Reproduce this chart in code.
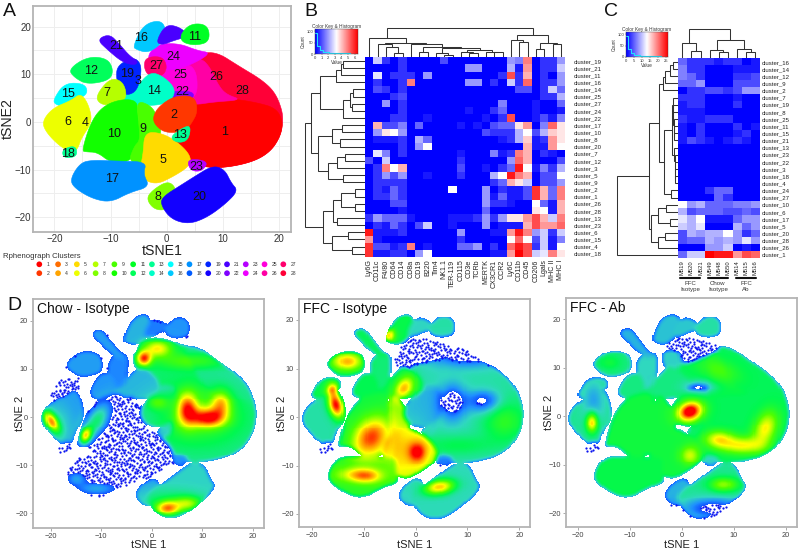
import numpy as np, matplotlib
matplotlib.use('Agg')
import matplotlib.pyplot as plt, seaborn as sns
from matplotlib.path import Path
from matplotlib.colors import LinearSegmentedColormap as LSC

sns.set_theme(style='white')
plt.rcParams['font.family'] = ['Liberation Sans', 'DejaVu Sans']
W, H = 800, 551

# ---------- cluster outlines (tSNE units) ----------
draw_order = [28,1,26,25,24,27,22,14,19,21,16,29,11,12,15,7,6,10,9,5,17,8,20,2,13,23,18]
outlines = {
 28: [(3,5),(5,13.2),(8.5,14.5),(13,11),(16.5,8.5),(18.8,6),(20,2.5),(20.2,0),(19.7,-3),(18,-6),(15,-8),(10,-9.2),(6,-8.9),(3.5,-7),(1.5,-4.5),(3,-3),(4.5,-1.5),(5,2)],
 1: [(4.9,3.5),(8,4.6),(12,4.3),(16,3.6),(19,2.6),(20.2,0),(19.7,-3),(18,-6),(15,-8),(10,-9.2),(6,-8.9),(3.5,-7),(1.5,-4.5),(3,-3),(4.5,-1.5),(4.6,1.5)],
 26: [(3,12),(6,13),(7.5,11),(8.5,8),(10,6),(13,4.8),(8,4.6),(5,4),(3,5),(1,7),(2,10)],
 25: [(-1,9.5),(1,11.3),(3.5,12),(5,10),(5,5),(1,5),(-1,7)],
 24: [(-3.2,13.3),(-1.5,16),(2,16),(5,14.8),(7.5,14.4),(3.5,12),(0,11),(-1,12.5)],
 27: [(-3.4,13.2),(-1,13.3),(-0.4,11.5),(-1,10),(-3,10),(-3.6,11.5)],
 22: [(1,6.2),(4.5,6.2),(4,4.6),(1.8,4.2),(0.6,5)],
 14: [(-8,5),(-5,7),(-3,10),(-1,9.2),(1,7),(0.6,5),(-1,4),(-4,3.8),(-6,4)],
 19: [(-8.5,11.5),(-6,13),(-5,12),(-5,10),(-5.5,7),(-7,6),(-8,7),(-8.5,9)],
 21: [(-12,17),(-10,18),(-8.5,16),(-7,14),(-5.5,13),(-6,12.2),(-8,13),(-10,15)],
 16: [(-5.6,16),(-4,20),(-1,21),(-0.5,18),(-2,16),(-3.5,15),(-5,15.5)],
 29: [(-1.5,17),(0,20),(2,19.5),(3.5,18),(1,17.5),(-0.5,16.5)],
 11: [(3,18.5),(4.5,20.2),(7,20),(7.2,17),(5,16.5),(3,17)],
 12: [(-17,11),(-14,13.2),(-11,13),(-10,11),(-10.5,9),(-14,8.3),(-16,9.5)],
 15: [(-19.6,5),(-18,7.7),(-15,7.7),(-14.5,6),(-16,5),(-18,3.6),(-19.6,4)],
 7: [(-12.2,5.5),(-10,8.8),(-8,8),(-7.5,5),(-9.5,4),(-11.5,4)],
 6: [(-21.7,0),(-20,2.5),(-17,4),(-15.5,5.5),(-14.3,3.5),(-13.7,0),(-15.5,-3),(-16,-5.3),(-17,-6),(-19,-4.5),(-21,-2)],
 10: [(-14.7,-5.8),(-13,0),(-11,3),(-8,4.3),(-5.5,4),(-5.5,1),(-5,-3),(-6,-6),(-7,-8),(-10,-8),(-12,-6),(-14,-6)],
 9: [(-5.3,4),(-3,3),(-2,1),(-1.6,-1),(-1.5,-2.8),(-3.5,-6),(-4,-8.3),(-6.6,-8),(-5.5,-4.7),(-4.5,-3.5),(-4.7,-1)],
 5: [(-3.7,-2.6),(-1,-2.8),(1.5,-4.5),(3.7,-7),(3.7,-9),(1,-11),(-2,-12.8),(-4.7,-11),(-3.7,-7)],
 17: [(-16.7,-12),(-15,-8.9),(-13,-8.4),(-9,-8.7),(-4,-8.6),(-4.7,-11),(-3.5,-13.5),(-7,-14.5),(-10,-16.4),(-13,-15.7),(-16,-13.7)],
 8: [(-3.2,-16),(-2,-14.5),(0,-12.9),(1.2,-14),(1,-16),(0,-18),(-2,-18)],
 20: [(0,-15.5),(3,-13.5),(5,-12),(8,-9.6),(10,-10.4),(11,-13),(12.2,-14.5),(10,-17),(7,-19.6),(4,-21),(1,-20),(-0.7,-17)],
 2: [(-2,1),(-1,3),(1.5,5),(4.7,5),(5,2),(4,0),(3,-1.6),(0,-1.9),(-1.6,-0.5)],
 13: [(1,-3.2),(2.5,-2),(4,-1),(3.5,-3.5),(2.2,-4)],
 23: [(4,-8),(7,-8.4),(6,-10),(4.5,-9.9)],
 18: [(-18.2,-6),(-16.5,-5.3),(-16.3,-7),(-18,-7.3)],
}
outline_colour_index = {k: k for k in outlines}
outline_colour_index.update({29: 21, 13: 13, 18: 13})
label_x = [10.2,1.2,-5.2,-14.5,-.7,-17.6,-10.6,-1.5,-4.3,-9.3,5,-13.5,2.3,-2.3,-17.6,-4.5,-9.7,-17.6,-7,5.8,-8.9,2.8,5.2,1.2,2.4,8.9,-1.9,13.4]
label_y = [-2.2,1.5,8.5,-.3,-8.1,-.1,6,-15.7,-1.5,-2.5,17.8,10.7,-2.8,6.4,5.8,17.6,-12,-6.8,10,-15.8,16,6.3,-9.4,13.7,9.8,9.5,11.8,6.5]

# ---------- panel D: cluster levels and density peaks (x,y,sx,sy,angle,amp) ----------
chow_levels = {1:.3,2:.27,6:.17,7:.16,8:.18,11:.16,12:.17,13:.16,14:.2,16:.2,19:.14,20:.24,21:.17,22:.24,24:.33,25:.33,26:.33,27:.33,28:.28,23:.14,29:.13}
ffc_iso_levels = {1:.27,2:.2,5:.6,6:.28,7:.37,8:.24,9:.55,10:.4,11:.28,12:.38,13:.24,14:.37,15:.38,16:.38,17:.45,19:.33,20:.26,21:.36,22:.22,23:.12,25:.27,26:.28,28:.28,29:.25}
ffc_ab_levels = {1:.36,2:.35,5:.4,6:.3,7:.32,8:.2,9:.4,10:.4,11:.28,12:.32,13:.33,14:.32,15:.3,16:.22,17:.38,19:.25,20:.3,21:.2,22:.24,23:.24,25:.36,26:.38,27:.24,28:.36,29:.23}
chow_peaks = [(7,1.5,1.4,2.3,0,.52),(11,-.3,2.2,1.3,0,.55),(13.5,2.5,1.4,1.9,0,.38),(9,0,6,4,0,.2),(-1.7,12,1,1,0,.58),(1,14,2,1.2,0,.38),(8,11.5,5,1.2,0,.18),
 (3,-19,1.6,1,0,.52),(7,-18,2,1,0,.3),(3,-18,5,2,0,.12),(-20,-1,.8,1.6,30,.6),(-13.2,-4,.8,1.2,-20,.6),(-11,-1,1.5,3,-30,.33),(1,2.8,1.5,1,0,.18),
 (-11,-15,3,1,0,.18),(-15,-12.8,1.5,1,0,.17),(-19,-2,2,3,0,.1)]
ffc_iso_peaks = [(-15.3,2.3,1,1.8,15,.72),(-16,5.5,.8,1,0,.38),(-13.2,11.2,2,1.2,0,.42),(-5.5,16.7,.9,.9,0,.45),(-2.3,5.8,1.2,1.8,-30,.42),(-8.7,-4.4,2.2,3,-30,.52),
 (.3,-7.4,1.2,1.5,0,.35),(-3,-7,3,4,0,.15),(-12,-12,2.5,1,0,.2),(-9.4,-12.3,2,1,0,.32),(4.5,-14.5,2,1,10,.5),(17,-1,3,3,0,.18),(8,-6,5,1.5,0,.1),
 (7,3,1.8,2.5,0,-.26),(13,3,2.2,1.6,0,-.22),(10,13,5,1.8,0,-.3)]
ffc_ab_peaks = [(1.5,1,1.6,1.2,20,.62),(1.5,1,2.2,1.8,20,.15),(-17.3,-1.3,.8,1.4,0,.48),(7,-4.7,2,1.2,0,.32),(11.5,-6,3,1.2,0,.33),(16,-2.5,1.5,2.5,-20,.35),(1.5,-8,1.3,1.3,0,.25),(8,-14,2,1,0,.28),(7,9.5,3,1.5,-20,.12),(-14,11,1.5,1,0,.08),(6,-19,4,1.5,0,-.25),(-17,3,1.5,3,0,-.12),(3.5,6,2,1,0,-.2)]
density_titles = ['Chow - Isotype', 'FFC - Isotype', 'FFC - Ab']

# ---------- heatmaps ----------
b_rows = [19,21,11,16,14,25,27,24,22,17,10,8,20,7,12,3,5,9,2,1,26,28,13,23,6,15,4,18]
b_cols = ['Ly6G','CD11c','F4/80','CD64','CD14','CD8a','CD19','B220','Tim4','NK1.1','TER-119','CD115','CD3e','TCRb','MERTK','CX3CR1','CCR2','Ly6C','CD11b','CD45','CD206','Lgals','MHC II','MHC I']
b_vals = [
[0,4,1,0,1,0,0,0,0,1.5,0,0,0,0,0,0,0,3,2.5,7.5,0,1,1,3],
[0,0,0,0,1,0,0,0,0,0,0,0,3,3,0,0,0,3.5,.5,7,0,1,1,4],
[0,4.5,0,1,1,1,0,3,0,0,0,0,0,0,0,0,1,8.5,1,6.5,0,1,0,3],
[0,1,0,0,1,7.5,0,0,0,0,0,0,3,3,0,1,0,4,1,8,0,1,1,3],
[0,1.5,1,0,1,0,0,0,0,0,0,0,0,0,0,0,0,0,1.5,1.5,0,1,4,2],
[0,0,0,1,1.5,0,0,0,0,0,0,0,0,0,0,0,0,0,0,0,0,1,1,3.5],
[0,0,3,0,1,0,0,0,0,0,0,0,0,0,0,0,2.5,0,0,0,.5,0,0,2],
[0,0,0,0,1,0,0,0,0,0,0,0,.5,0,0,1,2,0,0,0,.5,0,0,.5],
[0,0,0,1,1,0,0,.5,0,0,0,0,0,0,.5,0,1,8.5,0,0,.5,1.5,.5,2.5],
[0,6.5,1.5,1.5,2.5,0,2,0,0,0,0,.5,0,.5,0,1.5,2,2,5.5,7,0,2.5,8,5.5],
[0,3,5.5,5,3,0,0,0,0,0,0,0,0,0,1.5,1,1,1,3.5,5,1.5,3.5,6,5.5],
[0,.5,.5,.5,1,0,3.5,2,0,0,0,0,0,0,0,0,.5,1,3.5,6,.5,1,7,5.5],
[0,0,0,0,1,0,3,5,0,0,0,0,0,0,0,0,0,0,0,6.5,.5,.5,7,5],
[0,4.5,2.5,0,1,0,0,0,0,0,0,.5,0,0,0,2.5,.5,1,7.5,6.5,0,1,.5,0],
[1.5,0,4,0,0,0,0,0,0,0,0,1,0,0,0,0,0,3,8,6.5,0,0,0,1.5],
[0,1,7.5,5,6.5,0,0,0,0,0,0,1.5,0,0,.5,0,1,2,9.5,5,.5,2.5,1,3.5],
[0,1,3,1.5,3,0,0,.5,0,0,0,1,0,0,0,3.5,5,9.5,7.5,6.5,0,1.5,1.5,5],
[0,1,1,1,1,0,0,0,0,0,0,0,0,0,0,1,2,6.5,5.5,4,0,1.5,1.5,3],
[0,1,.5,2,1,0,0,0,0,0,5,0,0,0,3,0,1,.5,.5,1.5,9,6.5,2,7.5],
[0,1,1,2,1,0,0,0,0,0,0,0,0,0,3,.5,2,.5,.5,1.5,9,6.5,2,7.5],
[0,0,0,1.5,1.5,0,0,0,0,0,0,0,0,0,3,1,1,.5,0,0,5,2,.5,6.5],
[0,0,0,0,.5,0,0,0,0,0,0,0,0,0,2,0,0,0,0,0,5.5,5,.5,6.5],
[1,3,2,2,2,.5,0,0,0,0,.5,.5,.5,1,3,1,3,5.5,5.5,7,8.5,6.5,4,7.5],
[0,1,.5,2,1,0,1.5,4,0,0,.5,0,0,0,3,0,.5,.5,.5,6.5,8.5,7,7,8],
[9.5,.5,.5,.5,1,0,0,0,0,0,0,3,0,0,0,.5,.5,7,9.5,7.5,3,4,1,4],
[7,.5,0,0,0,0,0,0,0,0,0,1,0,0,0,0,0,5,8,5,1.5,4,.5,2.5],
[9,1.5,1.5,.5,1,7.5,0,.5,0,0,0,2,2,3,0,1,0,8,9.5,8.5,1,4,.5,5],
[9,.5,.5,1,1,0,3,5,0,0,0,0,0,0,0,.5,.5,7,10,8.5,4,4.5,7.5,5.5]]
c_rows = [16,14,12,9,2,7,19,8,25,11,15,21,13,23,22,3,18,4,24,27,10,6,17,5,20,28,26,1]
c_cols = ['M519','M520','M521','M549','M548','M550','M514','M515','M516']
c_vals = [
[2,1,1,1,.5,1,1,0,.5],[2.5,1,1,0,0,0,.5,.5,.5],[2.5,2,1,0,0,0,1,1,1.5],[2,2,3,0,0,0,1.5,1.5,1.5],[0,1,1,1.5,1.5,1,1.5,3,3],
[1,1,1,0,0,0,.5,0,0],[.5,1,1,0,0,0,1,0,0],[.5,.5,.5,0,0,0,0,0,0],[1,.5,.5,1,1,1,0,0,0],[.5,0,1,0,0,0,1,0,.5],[.5,0,1,0,0,0,.5,1,0],[.5,1.5,1,.5,0,.5,1,.5,0],
[0]*9,[0]*9,[0]*9,[0]*9,[0]*9,[0]*9,
[0,0,0,1,2,2,0,0,0],[0,0,0,0,2,1,0,0,0],
[5,3,3.5,2,2,2,2.5,2.5,3],[3.5,1.5,2,2,2,1.5,1.5,2,1.5],[4.5,3.5,5,.5,.5,.5,2,3,3],[4,3.5,4.5,0,0,0,3.5,2,3],
[1.5,3.5,3,3.5,3.5,5,3,1,2],[1.5,2,2,3.5,3,3.5,3,4.5,3],[0,0,0,3,3,4,0,.5,0],[2,4,4,10,9.5,9.5,7,8.5,8]]
c_groups = ['FFC\nIsotype','Chow\nIsotype','FFC\nAb']

# dendrograms: nested [height, left, right], leaves are row/column indices
b_row_tree = [15,[33,[60,[108,[122,[128,0,1],2],3],[130,[150,[160,4,5],[155,6,7]],8]],[55,[95,[125,9,10],[120,11,12]],[85,[110,[135,13,14],15],[130,16,17]]]],
              [70,[100,[122,[165,18,19],[165,20,21]],[112,22,23]],[95,[145,24,25],[155,26,27]]]]
b_col_tree = [25,[55,0,[70,[72,1,[82,2,[98,3,4]]],[72,5,[80,[95,6,7],[85,[100,8,[105,9,10]],[90,[95,11,[100,12,13]],[95,14,[97,15,16]]]]]]]],
              [45,[60,17,[65,18,19]],[68,[88,20,21],[72,22,23]]]]
c_row_tree = [80,[178,[208,[218,[225,[240,[248,0,1],2],3],4],[222,[245,[248,5,[250,6,[250,7,[252,8,[252,9,[253,10,11]]]]]],[253,12,[254,13,[254,14,[255,15,[255,16,17]]]]]],[242,18,19]]],
              [182,[205,[228,20,21],[240,22,23]],[205,[225,24,25],26]]],27]
c_col_tree = [88,[130,0,[152,1,2]],[120,[150,3,[155,4,5]],[148,6,[155,7,8]]]]

key_counts = [92,34,16,10,7,5,4,3,3,3,4,3,2,1,1]

# ---------- helpers ----------
fig = plt.figure(figsize=(W/100, H/100), dpi=100)
def px_ax(x0, y0, x1, y1, **kw):
    return fig.add_axes([x0/W, 1-y1/H, (x1-x0)/W, (y1-y0)/H], **kw)
def smooth(p, n=3, grow=.5):
    p = np.array(p, float)
    c = p.mean(axis=0)
    d = p-c
    p = p + grow*d/np.linalg.norm(d, axis=1, keepdims=True)
    for _ in range(n):
        q = np.roll(p, -1, axis=0)
        p = np.column_stack([.75*p+.25*q, .25*p+.75*q]).reshape(-1, 2)
    return p
def frame(ax, c='#b4b4b4', lw=1.3):
    for s in ax.spines.values():
        s.set_visible(True); s.set_color(c); s.set_linewidth(lw)
shapes = {k: smooth(v) for k, v in outlines.items()}
hue = sns.hls_palette(28, h=0, l=.5, s=1)
bwr = LSC.from_list('k', ['#0000ff', '#ffffff', '#ff0000'])

# ---------- panel A ----------
axA = px_ax(33, 6, 291, 232)
axA.set_xlim(-23.8, 22.1); axA.set_ylim(-23.1, 24.3)
for k in draw_order:
    s = shapes[k]
    axA.fill(s[:, 0], s[:, 1], color=hue[outline_colour_index[k]-1], lw=.4, zorder=3)
for i, (x, y) in enumerate(zip(label_x, label_y)):
    axA.text(x, y, str(i+1), ha='center', va='center', fontsize=9, color='#111', zorder=5)
axA.set_xticks([-20,-10,0,10,20]); axA.set_yticks([-20,-10,0,10,20])
axA.set_xticks([-15,-5,5,15], minor=True); axA.set_yticks([-15,-5,5,15], minor=True)
axA.grid(True, which='both', color='#eeeeee', lw=.7); axA.set_axisbelow(True)
axA.tick_params(labelsize=7, length=0, pad=1.5, labelcolor='#333')
axA.set_xlabel('tSNE1', fontsize=10.2, labelpad=0, color='#222')
axA.set_ylabel('tSNE2', fontsize=10.2, color='#222')
axA.yaxis.set_label_coords((15-33)/258, .5)
frame(axA)

# ---------- panel D ----------
gx = np.arange(-24, 24.01, .2); gy = np.arange(-24, 24.01, .2)
GX, GY = np.meshgrid(gx, gy)
pts = np.column_stack([GX.ravel(), GY.ravel()])
masks = {k: Path(shapes[k]).contains_points(pts).reshape(GX.shape) for k in draw_order}
union = np.any(list(masks.values()), axis=0)
dens = LSC.from_list('d', [(0,'#0000ff'),(.15,'#1e90ff'),(.25,'#30d8c0'),(.37,'#00f850'),(.52,'#50ff00'),(.7,'#ffff00'),(.85,'#ff9000'),(1,'#ff0000')])
THRESH = .09
def blur(a, n=5):
    k = np.ones(n)/n
    for _ in range(2):
        a = np.apply_along_axis(lambda r: np.convolve(r, k, 'same'), 0, a)
        a = np.apply_along_axis(lambda r: np.convolve(r, k, 'same'), 1, a)
    return a
# Halton low-discrepancy positions for the sparse blue events
def halton(n, b):
    out = np.zeros(n)
    for i in range(n):
        f, r, j = 1., 0., i+1
        while j:
            f /= b; r += f*(j % b); j //= b
        out[i] = r
    return out
n_dots = 6500
dots = np.column_stack([halton(n_dots, 2)*48-24, halton(n_dots, 3)*48-24])
boxes = [(32.7,299.3,264,528.3,50.7,252.7,320.7,513.3,25),(299,299.3,530,527.3,311.7,519.3,320,514,287),(565.7,298.3,796.7,526.7,577.7,786,319.3,513.3,554)]
sets = [(chow_levels,chow_peaks),(ffc_iso_levels,ffc_iso_peaks),(ffc_ab_levels,ffc_ab_peaks)]
for (x0,y0,x1,y1,xa,xb,ya,yb,ylab),(lv,pk),title in zip(boxes,sets,density_titles):
    ax = px_ax(x0,y0,x1,y1)
    sx = (xb-xa)/40; sy = (yb-ya)/40
    ax.set_xlim(-20-(xa-x0)/sx, 20+(x1-xb)/sx); ax.set_ylim(-20-(y1-yb)/sy, 20+(ya-y0)/sy)
    L = np.zeros(GX.shape)
    for k in draw_order:
        L[masks[k]] = lv.get(k, 0)
    F = blur(L)
    for (cx,cy,a,b,ang,amp) in pk:
        t = np.deg2rad(ang)
        u = (GX-cx)*np.cos(t)+(GY-cy)*np.sin(t); v = -(GX-cx)*np.sin(t)+(GY-cy)*np.cos(t)
        F = F + amp*np.exp(-.5*((u/a)**2+(v/b)**2))
    F = np.clip(F, 0, 1)
    rgba = dens(F); rgba[..., 3] = ((F > THRESH) & union).astype(float)
    ax.imshow(rgba, extent=(gx[0]-.1,gx[-1]+.1,gy[0]-.1,gy[-1]+.1), origin='lower', aspect='auto', interpolation='nearest', zorder=2)
    ix = ((dots[:,1]+24.1)/.2).astype(int).clip(0,240); jx = ((dots[:,0]+24.1)/.2).astype(int).clip(0,240)
    keep = union[ix,jx] & (F[ix,jx] <= THRESH)
    sns.scatterplot(x=dots[keep,0], y=dots[keep,1], s=2.6, color='#0a14f0', linewidth=0, ax=ax, zorder=3, legend=False)
    ax.set_xticks([-20,-10,0,10,20]); ax.set_yticks([-20,-10,0,10,20])
    ax.tick_params(labelsize=5.3, length=2, width=.5, pad=1.5, labelcolor='#444', color='#888', bottom=True, left=True)
    ax.set_xlabel('tSNE 1', fontsize=8, color='#222')
    ax.set_ylabel('tSNE 2', fontsize=8, color='#222')
    ax.yaxis.set_label_coords((ylab-x0)/(x1-x0), .5)
    ax.xaxis.set_label_coords(.5, -(540.5-y1)/(y1-y0))
    ax.text(.018, .958, title, transform=ax.transAxes, fontsize=10, va='center', ha='left', color='#111')
    ax.grid(False); frame(ax)

# ---------- heatmaps ----------
axB = px_ax(365, 57.3, 565, 257.3)
sns.heatmap(np.array(b_vals), ax=axB, cmap=bwr, vmin=0, vmax=10, cbar=False, linewidths=0,
            xticklabels=b_cols, yticklabels=[f'cluster_{r}' for r in b_rows])
axC = px_ax(677.7, 58.3, 760, 258.3)
sns.heatmap(np.array(c_vals), ax=axC, cmap=bwr, vmin=0, vmax=10, cbar=False, linewidths=0,
            xticklabels=c_cols, yticklabels=[f'cluster_{r}' for r in c_rows])
for ax, xfs, pad in ((axB, 5.1, 6.5), (axC, 4.2, 1)):
    ax.yaxis.tick_right()
    ax.tick_params(axis='y', labelsize=4.3, length=0, pad=pad, labelrotation=0, labelcolor='#222')
    ax.tick_params(axis='x', labelsize=xfs, length=0, pad=1.5, labelrotation=90, labelcolor='#222')

def draw_tree(ax, node, leaf_h, vertical):
    if not isinstance(node, list):
        return node+.5, leaf_h
    h, l, r = node
    pl, hl = draw_tree(ax, l, leaf_h, vertical)
    pr, hr = draw_tree(ax, r, leaf_h, vertical)
    xs, ys = [hl, h, h, hr], [pl, pl, pr, pr]
    if vertical:
        xs, ys = ys, xs
    ax.plot(xs, ys, color='#333333', lw=.75, solid_joinstyle='miter')
    return (pl+pr)/2, h
trees = [(b_row_tree,(303,57.3,365,257.3),(9,195),(28,0),195,False),
         (b_col_tree,(365,27,565,57.3),(0,24),(111.9,21),111.9,True),
         (c_row_tree,(612,58.3,677.7,258.3),(66,263),(28,0),263,False),
         (c_col_tree,(677.7,27,760,58.3),(0,9),(175,81),175,True)]
for tr, box, xl, yl, leaf, vert in trees:
    ax = px_ax(*box); ax.axis('off')
    draw_tree(ax, tr, leaf, vert)
    ax.set_xlim(*xl); ax.set_ylim(*yl)

# colour keys
for (box, vmax, ticks) in (((315,29,358,54),6.5,[0,1,2,3,4,5,6]), ((626,32,668,57),26,[0,5,10,15,20,25])):
    ax = px_ax(*box)
    ax.imshow(np.linspace(0,1,120)[None,:], extent=(0,vmax,0,110), aspect='auto', cmap=bwr, zorder=1)
    xs = np.linspace(0, vmax, len(key_counts))
    ax.step(xs, key_counts, where='mid', color='#20e0ff', lw=.8, zorder=2)
    ax.set_xlim(0,vmax); ax.set_ylim(0,110)
    ax.set_xticks(ticks); ax.set_yticks([0,50,100])
    ax.tick_params(labelsize=3, length=1, width=.3, pad=.4, colors='#333', bottom=True, left=True)
    ax.set_title('Color Key & Histogram', fontsize=3.4, pad=.8, color='#333')
    ax.set_xlabel('Value', fontsize=3.4, labelpad=0, color='#333'); ax.set_ylabel('Count', fontsize=3.4, labelpad=.5, color='#333')
    ax.grid(False); frame(ax, '#444', .3)

# ---------- overlay: letters, legend, sample groups ----------
ov = fig.add_axes([0,0,1,1]); ov.set_xlim(0,W); ov.set_ylim(H,0); ov.axis('off'); ov.patch.set_alpha(0)
for t, x, y in (('A',3,11.5),('B',304,12),('C',604,11.5),('D',7,306)):
    ov.text(x, y, t, fontsize=14, va='center', ha='left', color='#111')
ov.text(3, 256, 'Rphenograph Clusters', fontsize=5.6, va='center', color='#333')
leg_n = np.arange(1, 29)
leg_x = 39.3 + ((leg_n-1)//2)*18.77
leg_y = np.where(leg_n % 2 == 1, 264.3, 273.2)
sns.scatterplot(x=leg_x, y=leg_y, hue=leg_n, palette=hue, s=17, linewidth=0, ax=ov, legend=False)
for n, x, y in zip(leg_n, leg_x, leg_y):
    ov.text(x+7, y, str(n), fontsize=3.6, va='center', color='#333')
group_x = [(680,700),(708,728),(736,756)]
for (a,b), g in zip(group_x, c_groups):
    ov.plot([a,b],[277.5,277.5], color='#111', lw=1.5)
    ov.text((a+b)/2, 286.5, g, fontsize=4.4, ha='center', va='center', color='#333', linespacing=1.25)
ov.set_xlim(0,W); ov.set_ylim(H,0)
fig.savefig('out.png', dpi=100)
